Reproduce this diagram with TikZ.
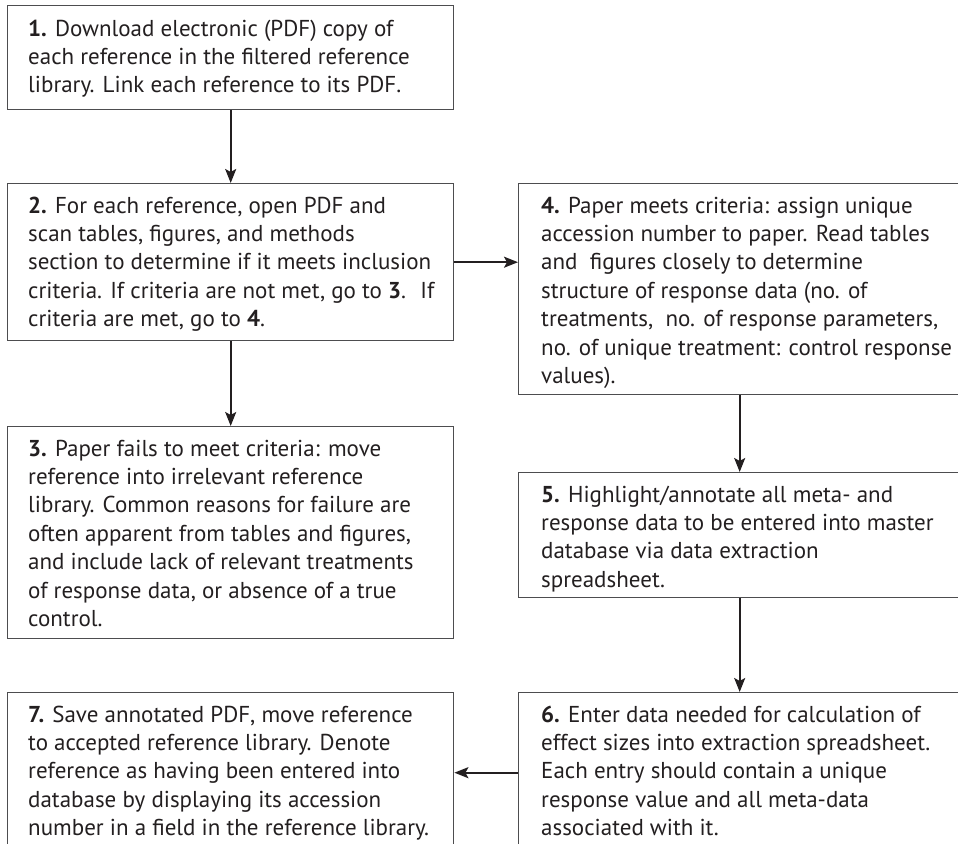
\documentclass[tikz,border=0pt]{standalone}
\usepackage{fontspec}
\setmainfont{PT Sans}
\usepackage{tikz}
\usetikzlibrary{arrows.meta, positioning, calc}

\definecolor{ink}{HTML}{231F20}
\definecolor{edge}{HTML}{4D4D4F}

\begin{document}
\begin{tikzpicture}[x=1pt, y=-1pt,
    box/.style={draw=edge, line width=1.4pt, anchor=north west, inner sep=0pt},
    lbox/.style={box, minimum width=446pt},
    rbox/.style={box, minimum width=442pt},
    txt/.style={anchor=north west, inner sep=0pt, align=left, text=ink,
        font=\fontsize{23}{28.4}\selectfont},
    arr/.style={draw=ink, line width=1.9pt, -{Stealth[length=14pt, width=11pt, inset=3pt]}}]
    \useasboundingbox (0,0) rectangle (958,843);
    \clip (0,0) rectangle (958,843);

    % boxes
    \node[lbox, minimum height=104pt] (b1) at (7,5) {};
    \node[lbox, minimum height=157pt] (b2) at (7,183) {};
    \node[rbox, minimum height=211pt] (b4) at (518,183) {};
    \node[lbox, minimum height=212pt] (b3) at (7,426) {};
    \node[rbox, minimum height=125pt] (b5) at (518,472) {};
    \node[rbox, minimum height=160pt] (b6) at (518,692) {};
    \node[lbox, minimum height=160pt] (b7) at (7,692) {};

    % texts
    \node[txt] (t1) at ($(b1.north west)+(21,11)$) {\strut\textbf{1.} Download electronic (PDF) copy of\\
        each reference in the filtered reference\\
        library. Link each reference to its PDF.};
    \node[txt] (t2) at ($(b2.north west)+(21,10)$) {\strut\textbf{2.} For each reference, open PDF and\\
        scan tables, figures, and methods\\
        section to determine if it meets inclusion\\
        criteria. If criteria are not met, go to \textbf{3}.~ If\\
        criteria are met, go to \textbf{4}.};
    \node[txt] (t4) at ($(b4.north west)+(23,10)$) {\strut\textbf{4.} Paper meets criteria: assign unique\\
        accession number to paper. Read tables\\
        and~ figures closely to determine\\
        structure of response data (no. of\\
        treatments,~ no. of response parameters,\\
        no. of unique treatment: control response\\
        values).};
    \node[txt] (t3) at ($(b3.north west)+(21,10)$) {\strut\textbf{3.} Paper fails to meet criteria: move\\
        reference into irrelevant reference\\
        library. Common reasons for failure are\\
        often apparent from tables and figures,\\
        and include lack of relevant treatments\\
        of response data, or absence of a true\\
        control.};
    \node[txt] (t5) at ($(b5.north west)+(23,10)$) {\strut\textbf{5.} Highlight/annotate all meta- and\\
        response data to be entered into master\\
        database via data extraction\\
        spreadsheet.};
    \node[txt] (t6) at ($(b6.north west)+(23,10)$) {\strut\textbf{6.} Enter data needed for calculation of\\
        effect sizes into extraction spreadsheet.\\
        Each entry should contain a unique\\
        response value and all meta-data\\
        associated with it.};
    \node[txt] (t7) at ($(b7.north west)+(21,10)$) {\strut\textbf{7.} Save annotated PDF, move reference\\
        to accepted reference library. Denote\\
        reference as having been entered into\\
        database by displaying its accession\\
        number in a field in the reference library.};

    % arrows
    \draw[arr] (b1) -- (b2);
    \draw[arr] (b2) -- (b3);
    \draw[arr] (b2.east) -- (b2.east -| b4.west);
    \draw[arr] (b4) -- (b5);
    \draw[arr] (b5) -- (b6);
    \draw[arr] (b6.west) -- (b6.west -| b7.east);
\end{tikzpicture}
\end{document}
